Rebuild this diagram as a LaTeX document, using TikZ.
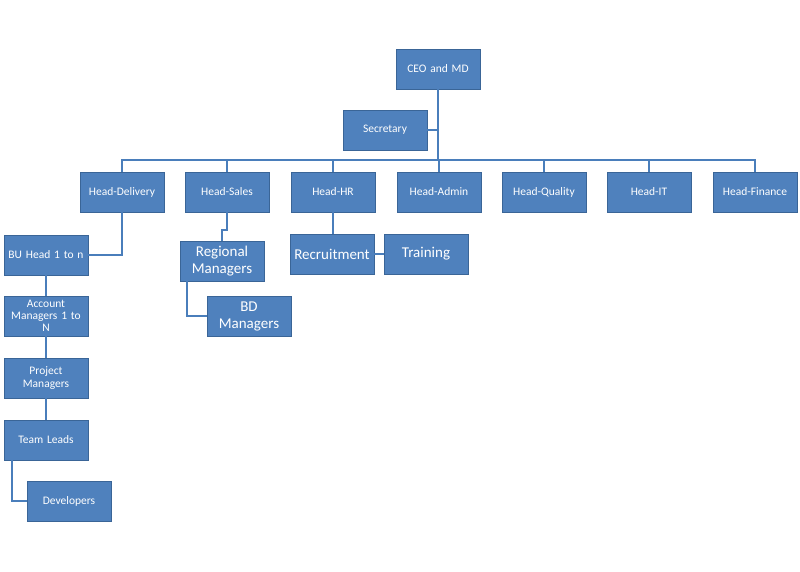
\documentclass[tikz,border=0pt]{standalone}
\usepackage{fontspec}
\setmainfont{Carlito}
\definecolor{boxfill}{HTML}{4F81BD}
\definecolor{boxline}{HTML}{3A6597}
\definecolor{conn}{HTML}{4A7EBB}
\begin{document}
\begin{tikzpicture}[x=1pt,y=-1pt,
  box/.style={draw=boxline,fill=boxfill,text=white,minimum width=84pt,minimum height=40pt,inner sep=1pt,align=center,font=\fontsize{11.5}{13}\selectfont,text width=82pt,line width=0.6pt},
  bigbox/.style={box,font=\fontsize{15}{17}\selectfont},
  ln/.style={draw=conn,line width=1.8pt}]
\useasboundingbox (0,0) rectangle (800,571);
\node[box] (ceo) at (438,69) {CEO and MD};
\node[box] (sec) at (385,130) {Secretary};
\node[box] (hd) at (122,192) {Head-Delivery};
\node[box] (hs) at (227,192) {Head-Sales};
\node[box] (hh) at (333,192) {Head-HR};
\node[box] (ha) at (439,192) {Head-Admin};
\node[box] (hq) at (544,192) {Head-Quality};
\node[box] (hi) at (649,192) {Head-IT};
\node[box] (hf) at (755,192) {Head-Finance};
\node[box] (bu) at (46,255) {BU Head 1 to n};
\node[box] (am) at (46,316) {Account\\[-1pt]Managers 1 to\\[-1pt]N};
\node[box] (pm) at (46,378) {Project\\Managers};
\node[box] (tl) at (46,440) {Team Leads};
\node[box] (dev) at (69,501) {Developers};
\node[bigbox] (rm) at (222,261) {Regional\\Managers};
\node[bigbox] (bd) at (249,316) {BD\\Managers};
\node[bigbox] (rec) at (332,254) {Recruitment};
\node[bigbox] (tr) at (426,254) {Training};
\coordinate (bar) at (438,160);
\draw[ln] (ceo.south) -- (bar);
\draw[ln] (sec.east) -- (sec.east -| ceo.south);
\draw[ln] (hd.north) |- (bar) -- (bar -| hf.north) -- (hf.north);
\foreach \n in {hs,hh,ha,hq,hi} \draw[ln] (\n.north) -- (\n.north |- bar);
\draw[ln] (hd.south) |- (bu.east);
\draw[ln] (bu.south) -- (am.north);
\draw[ln] (am.south) -- (pm.north);
\draw[ln] (pm.south) -- (tl.north);
\draw[ln] ([xshift=-34pt]tl.south) |- (dev.west);
\draw[ln] (hs.south) -- ++(0,18) -| (rm.north);
\draw[ln] ([xshift=-35pt]rm.south) |- (bd.west);
\draw[ln] (hh.south) -- (rec.north -| hh.south);
\draw[ln] (rec.east) -- (tr.west);
\end{tikzpicture}
\end{document}
